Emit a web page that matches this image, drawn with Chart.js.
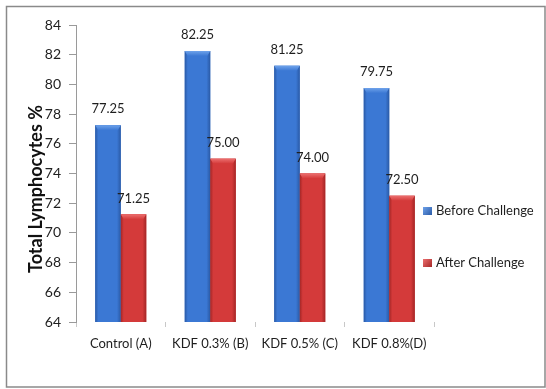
<!DOCTYPE html>
<html>
<head>
<meta charset="utf-8">
<script src="https://cdn.jsdelivr.net/npm/chart.js@4.4.1/dist/chart.umd.min.js"></script>
<style>
  html, body { margin: 0; padding: 0; background: #ffffff; }
  #wrap { width: 546px; height: 389px; }
</style>
</head>
<body>
<div id="wrap"><canvas id="chart" width="546" height="389"></canvas></div>
<script>
// Categories and series values
const categories = ['Control (A)', 'KDF 0.3% (B)', 'KDF 0.5% (C)', 'KDF 0.8%(D)'];
const beforeChallenge = [77.25, 82.25, 81.25, 79.75];
const afterChallenge = [71.25, 75.00, 74.00, 72.50];
const seriesNames = ['Before Challenge', 'After Challenge'];
const yTitle = 'Total Lymphocytes %';
const yMin = 64, yMax = 84, yStep = 2;

const FONT = 'Lato, "Open Sans", sans-serif';

// Colours for each series: base, light, dark
const palette = [
  { base: '#3b78d4', light: '#6ea2ea', dark: '#2a5aa6' },
  { base: '#d43a3a', light: '#ec6f6f', dark: '#a42626' }
];

// Outer frame around the whole figure and the rotated axis title
const framePlugin = {
  id: 'frame',
  afterDraw(chart) {
    const c = chart.ctx;
    c.save();
    c.strokeStyle = '#8a8a8a';
    c.lineWidth = 1.5;
    c.strokeRect(6.5, 6.5, 538.5, 380.5);
    c.restore();

    c.save();
    c.translate(36, 189);
    c.rotate(-Math.PI / 2);
    c.font = 'bold 18px ' + FONT;
    c.fillStyle = '#111';
    c.textAlign = 'center';
    c.textBaseline = 'middle';
    c.fillText(yTitle, 0, 0);
    c.restore();
  }
};

// Bevelled shading of the bars and value labels
const barStylePlugin = {
  id: 'barStyle',
  afterDatasetsDraw(chart) {
    const c = chart.ctx;
    const area = chart.chartArea;
    chart.data.datasets.forEach((ds, di) => {
      const meta = chart.getDatasetMeta(di);
      const col = palette[di];
      meta.data.forEach((bar, i) => {
        const p = bar.getProps(['x', 'y', 'base', 'width'], true);
        const left = p.x - p.width / 2, right = p.x + p.width / 2;
        const top = p.y, bottom = Math.min(p.base, area.bottom);
        c.save();
        // body: darker edges, brighter centre
        const g = c.createLinearGradient(left, 0, right, 0);
        g.addColorStop(0, col.dark);
        g.addColorStop(0.12, col.base);
        g.addColorStop(0.5, col.base);
        g.addColorStop(0.85, col.base);
        g.addColorStop(1, col.dark);
        c.fillStyle = g;
        c.fillRect(left, top, p.width, bottom - top);
        // top bevel
        const bev = 5;
        const gt = c.createLinearGradient(0, top, 0, top + bev);
        gt.addColorStop(0, col.light);
        gt.addColorStop(1, col.base);
        c.fillStyle = gt;
        c.beginPath();
        c.moveTo(left, top);
        c.lineTo(right, top);
        c.lineTo(right - 3, top + bev);
        c.lineTo(left + 3, top + bev);
        c.closePath();
        c.fill();
        c.restore();

        // value label
        c.save();
        c.font = '13px ' + FONT;
        c.fillStyle = '#1e1e1e';
        c.textAlign = 'center';
        c.textBaseline = 'middle';
        c.fillText(ds.data[i].toFixed(2), p.x, top - 16);
        c.restore();
      });
    });
  }
};

// Legend on the right side
const sideLegendPlugin = {
  id: 'sideLegend',
  afterDraw(chart) {
    const c = chart.ctx;
    const area = chart.chartArea;
    const x0 = area.right - 11;
    const ys = [211, 263];
    chart.data.datasets.forEach((ds, di) => {
      const col = palette[di];
      const y = ys[di];
      c.save();
      const g = c.createLinearGradient(x0, y - 4, x0 + 9, y + 4);
      g.addColorStop(0, col.light);
      g.addColorStop(1, col.dark);
      c.fillStyle = g;
      c.fillRect(x0, y - 4, 9, 8);
      c.font = '13px ' + FONT;
      c.fillStyle = '#1e1e1e';
      c.textAlign = 'left';
      c.textBaseline = 'middle';
      c.fillText(ds.label, x0 + 13, y);
      c.restore();
    });
  }
};

new Chart(document.getElementById('chart'), {
  type: 'bar',
  data: {
    labels: categories,
    datasets: [
      { label: seriesNames[0], data: beforeChallenge, backgroundColor: palette[0].base },
      { label: seriesNames[1], data: afterChallenge, backgroundColor: palette[1].base }
    ]
  },
  options: {
    responsive: false,
    animation: false,
    devicePixelRatio: 1,
    categoryPercentage: 0.57,
    barPercentage: 1.0,
    layout: { padding: { left: 26, right: 112, top: 25, bottom: 0 } },
    plugins: {
      legend: { display: false },
      tooltip: { enabled: false }
    },
    scales: {
      x: {
        offset: true,
        grid: { display: true, drawOnChartArea: false, offset: true, color: '#c8c8c8', tickLength: 5 },
        border: { display: false },
        ticks: { color: '#1e1e1e', font: { family: FONT, size: 13 }, padding: 9, maxRotation: 0 },
        afterFit(s) { s.height = 67; }
      },
      y: {
        min: yMin, max: yMax,
        ticks: { stepSize: yStep, color: '#1e1e1e', font: { family: FONT, size: 14 }, padding: 8 },
        grid: { display: true, drawOnChartArea: false, color: '#9a9a9a', tickLength: 7 },
        border: { display: true, color: '#9a9a9a', width: 1 },
        title: { display: false },
        afterFit(s) { s.width = 50; }
      }
    }
  },
  plugins: [barStylePlugin, sideLegendPlugin, framePlugin]
});
</script>
</body>
</html>
